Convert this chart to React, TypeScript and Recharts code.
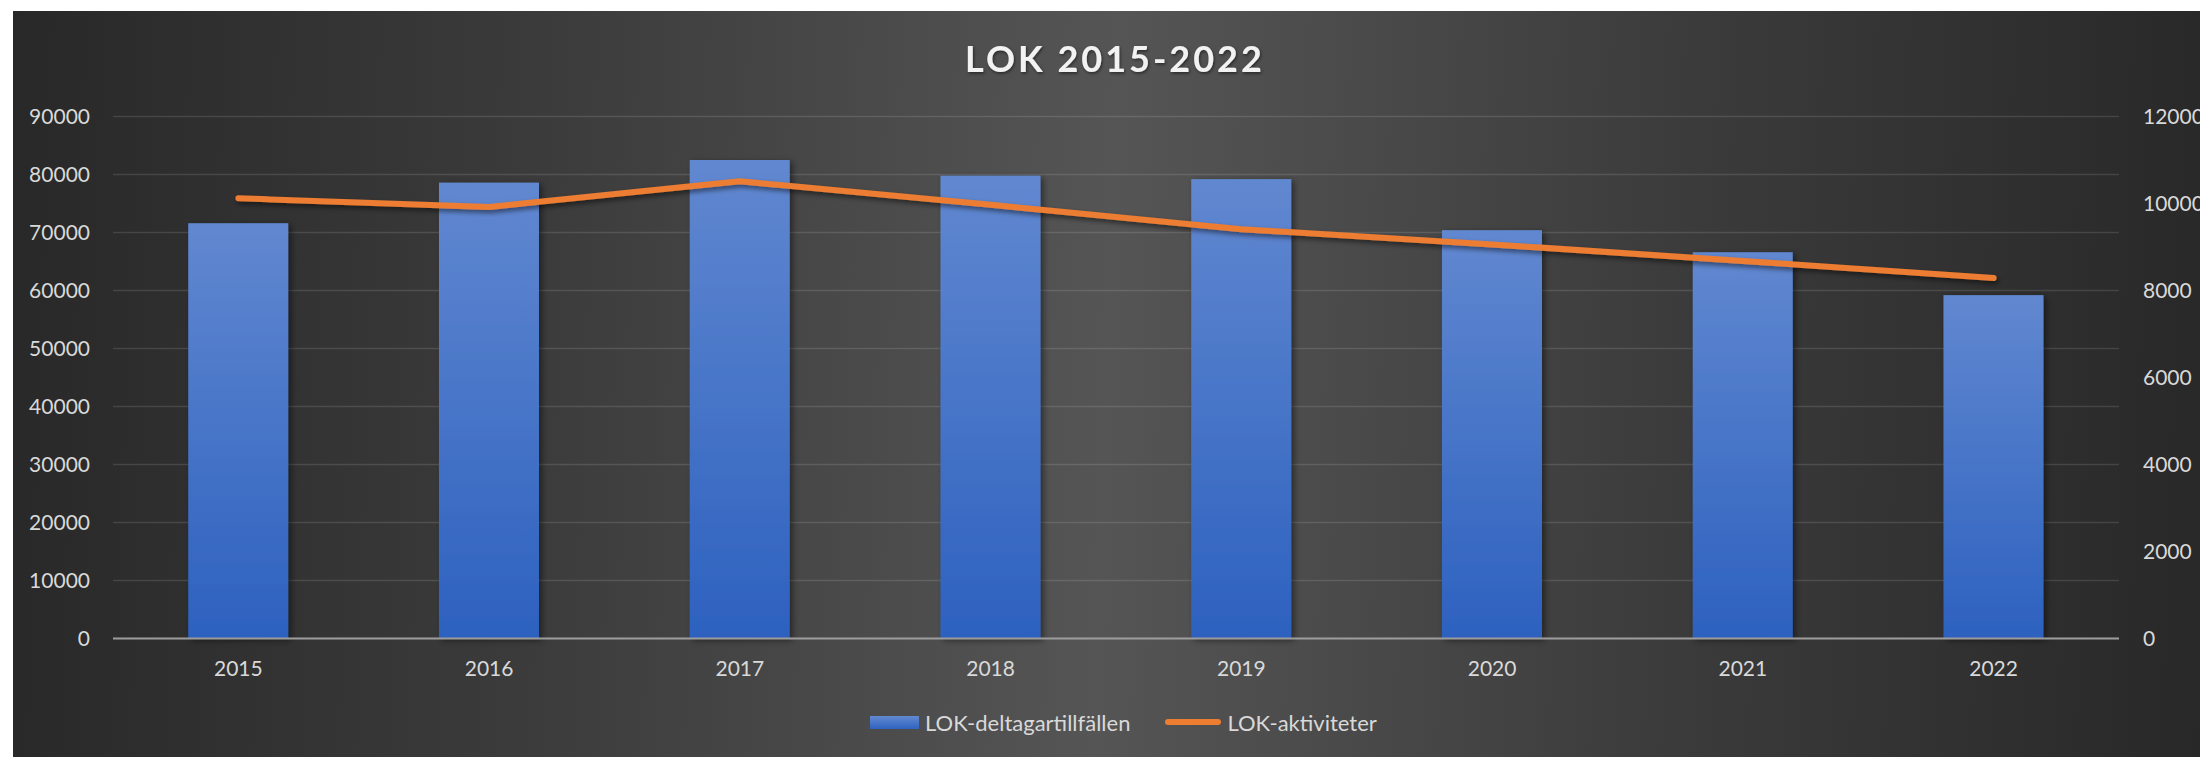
import React from 'react';
import { ComposedChart, Bar, Line, XAxis, YAxis, CartesianGrid, Legend } from 'recharts';

const years = ['2015', '2016', '2017', '2018', '2019', '2020', '2021', '2022'];
const deltagartillfallen = [71600, 78600, 82500, 79800, 79200, 70400, 66600, 59200];
const aktiviteter = [10120, 9920, 10510, 9970, 9410, 9060, 8680, 8285];
const leftTicks = [0, 10000, 20000, 30000, 40000, 50000, 60000, 70000, 80000, 90000];
const rightTicks = [0, 2000, 4000, 6000, 8000, 10000, 12000];

const data = years.map((year, i) => ({
  year,
  deltagare: deltagartillfallen[i],
  aktiviteter: aktiviteter[i],
}));

const FONT = 'Lato, "Open Sans", sans-serif';
const W = 2187;
const H = 746;
const LABEL = '#d9d9d9';

function LegendContent() {
  return (
    <div
      style={{
        display: 'flex',
        alignItems: 'center',
        fontFamily: FONT,
        fontSize: 22,
        color: LABEL,
        whiteSpace: 'nowrap',
        height: 40,
      }}
    >
      <svg width={49} height={13} style={{ display: 'block' }}>
        <defs>
          <linearGradient id="legGrad" x1="0" y1="0" x2="0" y2="1">
            <stop offset="0%" stopColor="#6289d0" />
            <stop offset="100%" stopColor="#2f63c0" />
          </linearGradient>
        </defs>
        <rect x={0} y={0} width={49} height={13} fill="url(#legGrad)" />
      </svg>
      <span style={{ marginLeft: 6 }}>LOK-deltagartillfällen</span>
      <svg width={58} height={12} style={{ display: 'block', marginLeft: 34 }}>
        <line x1={4} y1={6} x2={54} y2={6} stroke="#ED7D31" strokeWidth={6} strokeLinecap="round" />
      </svg>
      <span style={{ marginLeft: 5 }}>LOK-aktiviteter</span>
    </div>
  );
}

const BarShape = (p: any) => (
  <rect
    x={p.x}
    y={p.y}
    width={p.width}
    height={p.height}
    fill="url(#barGrad)"
    filter="url(#barShadow)"
  />
);

export default function App() {
  return (
    <div
      style={{
        position: 'fixed',
        left: 13,
        top: 11,
        width: W,
        height: H,
        overflow: 'hidden',
        background: 'linear-gradient(92deg, #282828 0%, #3c3c3c 25%, #555555 50%, #3c3c3c 75%, #282828 100%)',
      }}
    >
      <div style={{ position: 'absolute', left: 0, top: 0 }}>
        <ComposedChart
          width={W}
          height={H}
          data={data}
          barCategoryGap="30%"
          margin={{ top: 105.5, right: 11, left: 10, bottom: 38.5 }}
        >
          <defs>
            <linearGradient id="barGrad" x1="0" y1="0" x2="0" y2="1">
              <stop offset="0%" stopColor="#6188d0" />
              <stop offset="100%" stopColor="#2d61bf" />
            </linearGradient>
            <filter id="barShadow" x="-20%" y="-20%" width="140%" height="140%">
              <feDropShadow dx={3} dy={2} stdDeviation={3} floodColor="#000" floodOpacity={0.45} />
            </filter>
            <filter id="lineShadow" x="-5%" y="-50%" width="110%" height="200%">
              <feDropShadow dx={2} dy={3} stdDeviation={2.5} floodColor="#000" floodOpacity={0.5} />
            </filter>
          </defs>
          <CartesianGrid
            yAxisId="left"
            vertical={false}
            stroke="#ffffff"
            strokeOpacity={0.12}
            strokeWidth={1.5}
          />
          <XAxis
            dataKey="year"
            axisLine={{ stroke: '#9c9c9c', strokeWidth: 2 }}
            tickLine={false}
            tickSize={0}
            tickMargin={23}
            height={40}
            interval={0}
            tick={{ fill: LABEL, fontSize: 21, fontFamily: FONT }}
          />
          <YAxis
            yAxisId="left"
            orientation="left"
            domain={[0, 90000]}
            ticks={leftTicks}
            interval={0}
            axisLine={false}
            tickLine={false}
            tickSize={0}
            tickMargin={23}
            width={90}
            tick={{ fill: LABEL, fontSize: 21, fontFamily: FONT }}
          />
          <YAxis
            yAxisId="right"
            orientation="right"
            domain={[0, 12000]}
            ticks={rightTicks}
            interval={0}
            axisLine={false}
            tickLine={false}
            tickSize={0}
            tickMargin={24}
            width={70}
            tick={{ fill: LABEL, fontSize: 21, fontFamily: FONT, textAnchor: 'start' }}
          />
          <Bar
            yAxisId="left"
            dataKey="deltagare"
            name="LOK-deltagartillfällen"
            fill="url(#barGrad)"
            shape={BarShape}
            isAnimationActive={false}
          />
          <Line
            yAxisId="right"
            type="linear"
            dataKey="aktiviteter"
            name="LOK-aktiviteter"
            stroke="#ED7D31"
            strokeWidth={6}
            strokeLinecap="round"
            strokeLinejoin="round"
            filter="url(#lineShadow)"
            dot={false}
            activeDot={false}
            isAnimationActive={false}
          />
          <Legend
            verticalAlign="bottom"
            content={LegendContent}
            wrapperStyle={{ left: 857, top: 691, bottom: 'auto', width: 'auto', height: 40 }}
          />
        </ComposedChart>
      </div>
      <svg
        width={W}
        height={90}
        style={{ position: 'absolute', left: 0, top: 0, pointerEvents: 'none' }}
      >
        <defs>
          <filter id="titleShadow" x="-10%" y="-30%" width="120%" height="160%">
            <feDropShadow dx={1} dy={1.5} stdDeviation={1.5} floodColor="#000" floodOpacity={0.5} />
          </filter>
        </defs>
        <text
          x={1102}
          y={61}
          textAnchor="middle"
          fill="#f2f2f2"
          fontFamily={FONT}
          fontWeight={700}
          fontSize={36}
          letterSpacing={3}
          filter="url(#titleShadow)"
        >
          LOK 2015-2022
        </text>
      </svg>
    </div>
  );
}
